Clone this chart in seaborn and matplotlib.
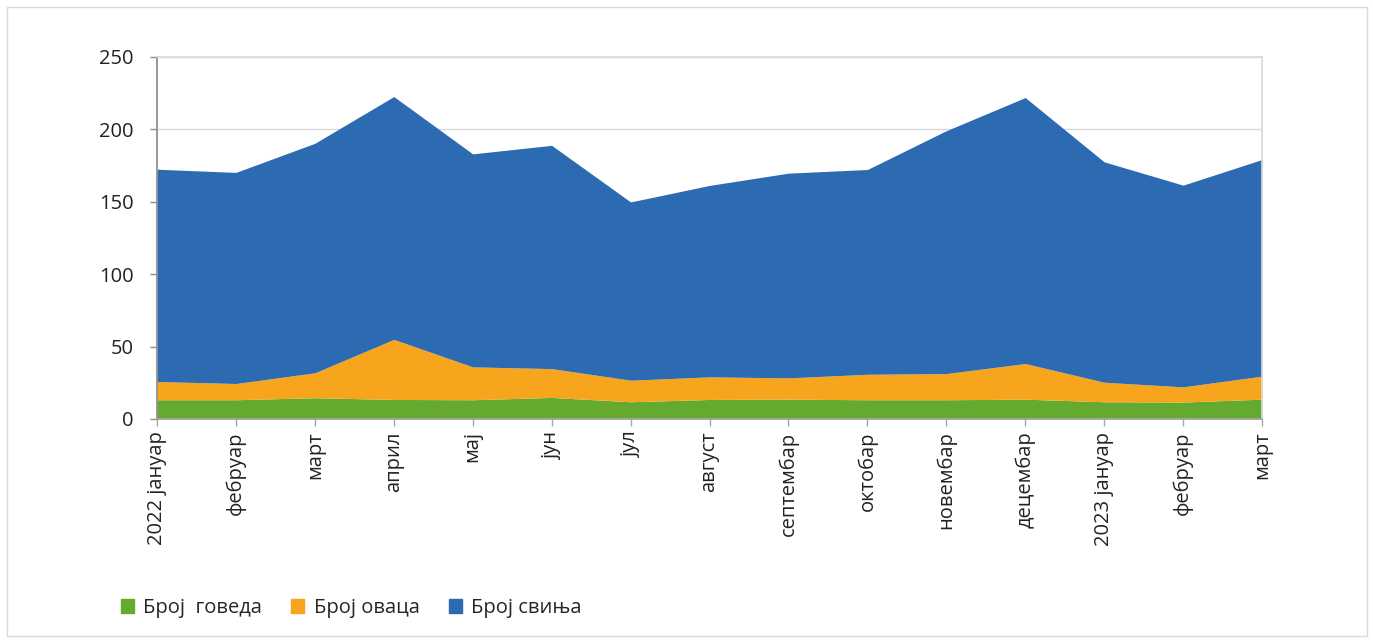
import matplotlib.pyplot as plt
import matplotlib.patches as mpatches
import seaborn as sns

months = ['2022 јануар', 'фебруар', 'март', 'април', 'мај', 'јун', 'јул', 'август',
          'септембар', 'октобар', 'новембар', 'децембар', '2023 јануар', 'фебруар', 'март']
cattle = [13.3, 13.3, 14.7, 13.5, 13.3, 14.9, 11.9, 13.5, 13.7, 13.3, 13.3, 13.7, 11.9, 11.7, 13.7]
sheep = [12.6, 11.2, 17.2, 41.5, 22.7, 19.9, 14.9, 15.6, 14.7, 17.6, 18.1, 24.6, 13.5, 10.5, 15.9]
pigs = [146.6, 145.8, 158.5, 167.7, 147.1, 154.2, 123.1, 132.2, 141.4, 141.4, 167.7, 183.7, 152.2, 139.3, 149.6]
series_names = ['Број  говеда', 'Број оваца', 'Број свиња']
colors = ['#63AA2F', '#F7A51C', '#2C6BB2']

sns.set_theme(style='white')
plt.rcParams['font.family'] = ['Open Sans', 'DejaVu Sans']

fig = plt.figure(figsize=(13.73, 6.42), dpi=100)
ax = fig.add_axes([157 / 1373, 1 - 419 / 642, (1262 - 157) / 1373, (419 - 57) / 642])

x = list(range(len(months)))
ax.set_axisbelow(True)
ax.yaxis.grid(True, color='#D9D9D9', linewidth=1)
ax.stackplot(x, cattle, sheep, pigs, colors=colors, labels=series_names, linewidth=0)

ax.set_xlim(0, len(months) - 1)
ax.set_ylim(0, 250)
ax.set_yticks([0, 50, 100, 150, 200, 250])
ax.set_xticks(x)
ax.set_xticklabels(months, rotation=90)
ax.tick_params(axis='both', labelsize=14.5, colors='#222222', length=5, width=1,
               direction='out', bottom=True, left=True, pad=4)
ax.tick_params(axis='x', color='#A6A6A6')
ax.tick_params(axis='y', color='#8C8C8C', pad=12)
for side in ['top', 'right']:
    ax.spines[side].set_color('#D9D9D9')
ax.spines['left'].set_color('#8C8C8C')
ax.spines['bottom'].set_color('#A6A6A6')

handles = [mpatches.Patch(color=c, label=n) for c, n in zip(colors, series_names)]
fig.legend(handles=handles, loc='center left', bbox_to_anchor=(103 / 1373, 1 - 608 / 642),
           ncol=3, frameon=False, fontsize=14.5, handlelength=0.65, handleheight=0.65,
           handletextpad=0.45, columnspacing=1.45)

fig.patches.append(mpatches.Rectangle((7 / 1373, 6 / 642), 1360 / 1373, 629 / 642,
                                      transform=fig.transFigure, fill=False,
                                      edgecolor='#D9D9D9', linewidth=1))

fig.savefig('out.png', dpi=100)
